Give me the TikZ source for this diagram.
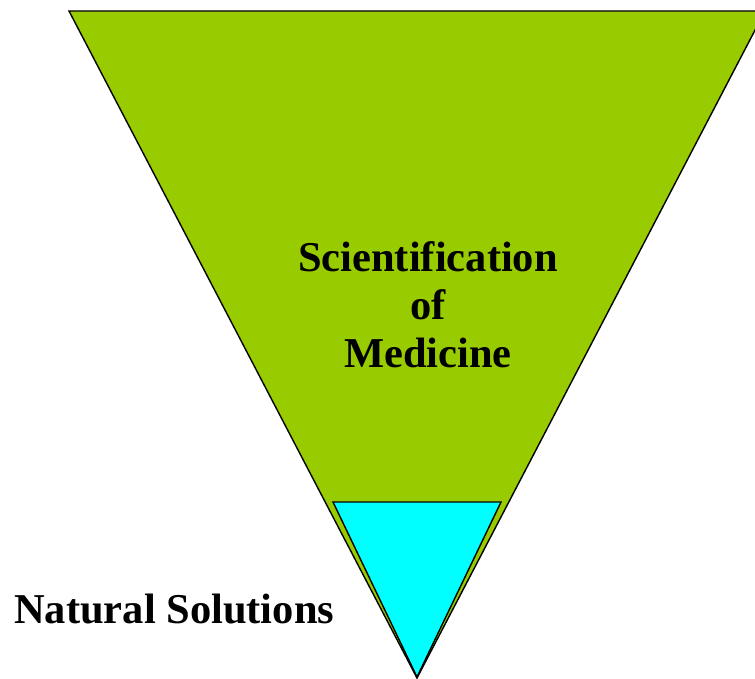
\documentclass[tikz,border=0pt]{standalone}
\usepackage{fontspec}
\setmainfont{Liberation Serif}
\usetikzlibrary{positioning}

\begin{document}
\begin{tikzpicture}[x=1pt,y=-1pt,
  wedge/.style={draw,line width=1.4pt,line join=miter},
  lbl/.style={font=\fontsize{42.5}{48}\selectfont\bfseries,align=center,inner sep=0pt}]
  \useasboundingbox (0,0) rectangle (755,679);
  \clip (0,0) rectangle (755,679);
  \definecolor{leafgreen}{HTML}{99CC00}
  \definecolor{aqua}{HTML}{00FFFF}
  \draw[wedge,fill=leafgreen] (69,11) -- (765,11) -- (417,678) -- cycle;
  \draw[wedge,fill=aqua] (333,502) -- (501,502) -- (417,677) -- cycle;
  \node[lbl,anchor=base] (sci) at (428,271) {Scientification};
  \node[lbl,anchor=base] (of) at (428,319) {of};
  \node[lbl,anchor=base] (med) at (428,367) {Medicine};
  \node[lbl,anchor=base west] (nat) at (14,623) {Natural Solutions};
\end{tikzpicture}
\end{document}
